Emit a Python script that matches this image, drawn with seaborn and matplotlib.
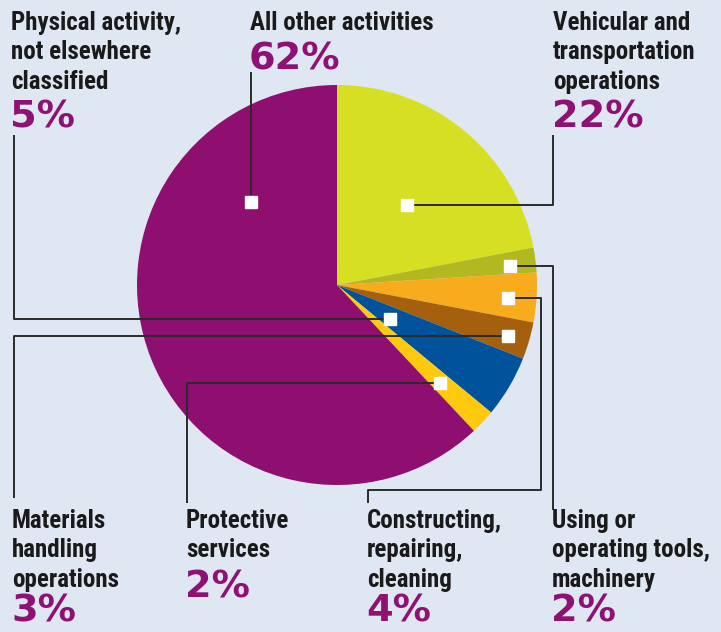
import matplotlib
matplotlib.use("Agg")
import matplotlib.pyplot as plt
from matplotlib import font_manager
from matplotlib.font_manager import FontProperties
import seaborn as sns

categories = ["Vehicular and\ntransportation\noperations",
              "Using or\noperating tools,\nmachinery",
              "Constructing,\nrepairing,\ncleaning",
              "Materials\nhandling\noperations",
              "Physical activity,\nnot elsewhere\nclassified",
              "Protective\nservices",
              "All other activities"]
values = [22, 2, 4, 3, 5, 2, 62]
pct_labels = ["22%", "2%", "4%", "3%", "5%", "2%", "62%"]
colors = ["#d7df23", "#b2b81f", "#f8ab1c", "#a4600c", "#00539b", "#ffc90e", "#8e0f6f"]

BG = "#dfe7f2"
PURPLE = "#8e1174"
sns.set_theme(style="white", rc={"figure.facecolor": BG, "axes.facecolor": BG})
plt.rcParams["font.family"] = ["DejaVu Sans"]

# pick the narrowest bold font available
def pick_condensed():
    prefs = ["Liberation Sans Narrow", "Roboto Condensed", "Open Sans Condensed",
             "Noto Sans Condensed", "DejaVu Sans"]
    cands = []
    for f in font_manager.fontManager.ttflist:
        fn = f.fname.lower()
        w = f.weight if isinstance(f.weight, int) else 700 if "bold" in str(f.weight) else 400
        narrow = ("narrow" in fn or "condensed" in fn or
                  str(f.stretch) in ("condensed", "semi-condensed", "extra-condensed"))
        if narrow and w >= 600 and "oblique" not in fn and "italic" not in fn:
            cands.append(f)
    for p in prefs:
        for f in cands:
            if f.name == p or p.lower().replace(" ", "") in f.fname.lower().replace(" ", ""):
                return FontProperties(fname=f.fname)
    if cands:
        return FontProperties(fname=cands[0].fname)
    return FontProperties(family="Liberation Sans", weight="bold")

label_fp = pick_condensed()

W, H = 721, 632
fig = plt.figure(figsize=(W / 100, H / 100), dpi=100)
ax = fig.add_axes([0, 0, 1, 1])

def Y(y):
    return H - y

cx, cy, R = 337, 285, 200
ax.pie(values, colors=colors, startangle=90, counterclock=False,
       center=(cx, Y(cy)), radius=R, frame=True,
       wedgeprops=dict(linewidth=0))
ax.set_xlim(0, W)
ax.set_ylim(0, H)
ax.axis("off")

# fit label font size so "Physical activity," is about as wide as in the reference
renderer = fig.canvas.get_renderer()
probe = ax.text(0, 0, "Physical activity,", fontproperties=label_fp, fontsize=17)
wpx = probe.get_window_extent(renderer).width
probe.remove()
label_size = min(18.0, 17 * 188.0 / wpx)

connectors = [
    [(407, 205), (553, 205), (553, 135)],
    [(510, 266), (553, 266), (553, 510)],
    [(508, 298), (541, 298), (541, 490), (368, 490), (368, 503)],
    [(508, 336), (14, 336), (14, 498)],
    [(390, 319), (14, 319), (14, 135)],
    [(440, 383), (187, 383), (187, 503)],
    [(251, 202), (251, 72)],
]
for pts in connectors:
    xs = [p[0] for p in pts]
    ys = [Y(p[1]) for p in pts]
    ax.plot(xs, ys, color="#2a2a2a", lw=1.4, solid_capstyle="butt", zorder=3)
for pts in connectors:
    ax.plot(pts[0][0], Y(pts[0][1]), marker="s", ms=9, color="white",
            mec="white", zorder=4)

# (x, top of label, baseline of percentage)
text_pos = [
    (553, 11, 127),
    (552, 509, 622),
    (367, 509, 622),
    (12, 509, 622),
    (11, 11, 127),
    (186, 509, 597),
    (250, 11, 69),
]
for cat, pct, (x, ty, py) in zip(categories, pct_labels, text_pos):
    ax.text(x, Y(ty), cat, ha="left", va="top", fontproperties=label_fp,
            fontsize=label_size, color="#1a1a1a", linespacing=1.28)
    ax.text(x - 1, Y(py), pct, ha="left", va="baseline", fontsize=27.5, fontweight="bold",
            color=PURPLE, family=["DejaVu Sans"])

fig.savefig("out.png", dpi=100, facecolor=BG)
